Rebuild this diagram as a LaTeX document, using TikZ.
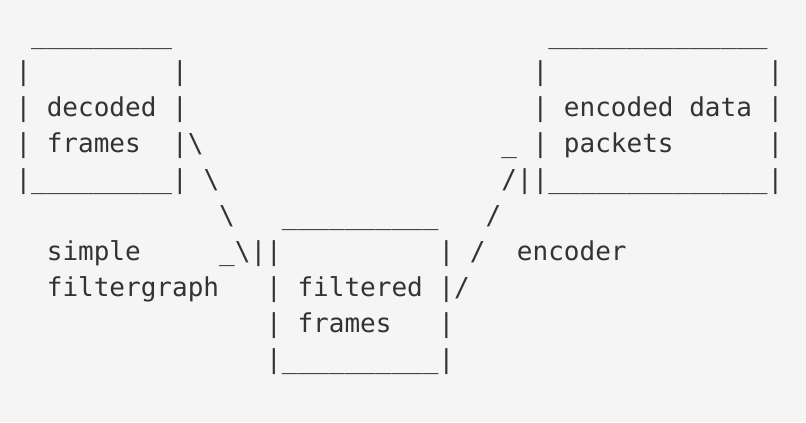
\documentclass[tikz,border=0pt]{standalone}
\usepackage{fontspec}
\usepackage{xcolor}
\usepackage{tikz}
\newfontfamily\asciifont{DejaVu Sans Mono}
\definecolor{paper}{HTML}{F5F5F5}
\definecolor{ink}{HTML}{333333}
\tikzset{asc/.style={anchor=base west,inner sep=0pt,outer sep=0pt,text=ink,
  font=\asciifont\fontsize{13.01pt}{18pt}\selectfont}}

\begin{document}
\begin{tikzpicture}
	\fill[paper] (0,0) rectangle (403pt,-211pt);
	\useasboundingbox (0,0) rectangle (403pt,-211pt);
	\begin{scope}[shift={(7.75pt,-22pt)},x=7.835pt,y=-18.05pt]
	% decoded frames box
	\node[asc] (dec top) at (1,0) {\_\_\_\_\_\_\_\_\_};
	\node[asc] (dec l1) at (0,1) {|};
	\node[asc] (dec r1) at (10,1) {|};
	\node[asc] (dec txt) at (0,2) {| decoded |};
	\node[asc] (dec txt2) at (0,3) {| frames};
	\node[asc] (dec r3) at (10,3) {|\textbackslash};
	\node[asc] (dec bot) at (0,4) {|\_\_\_\_\_\_\_\_\_|};
	% encoded data box
	\node[asc] (enc top) at (34,0) {\_\_\_\_\_\_\_\_\_\_\_\_\_\_};
	\node[asc] (enc l1) at (33,1) {|};
	\node[asc] (enc r1) at (48,1) {|};
	\node[asc] (enc txt) at (33,2) {| encoded data |};
	\node[asc] (enc tip) at (31,3) {\_};
	\node[asc] (enc txt2) at (33,3) {| packets};
	\node[asc] (enc r3) at (48,3) {|};
	\node[asc] (enc bot) at (31,4) {/||\_\_\_\_\_\_\_\_\_\_\_\_\_\_|};
	% left arrow
	\node[asc] (fg a1) at (12,4) {\textbackslash};
	\node[asc] (fg a2) at (13,5) {\textbackslash};
	\node[asc] (fg a3) at (13,6) {\_\textbackslash||};
	\node[asc] (fg lab1) at (2,6) {simple};
	\node[asc] (fg lab2) at (2,7) {filtergraph};
	% filtered frames box
	\node[asc] (fil top) at (17,5) {\_\_\_\_\_\_\_\_\_\_};
	\node[asc] (fil r1) at (27,6) {|};
	\node[asc] (fil txt) at (16,7) {| filtered |/};
	\node[asc] (fil txt2) at (16,8) {| frames};
	\node[asc] (fil r3) at (27,8) {|};
	\node[asc] (fil bot) at (16,9) {|\_\_\_\_\_\_\_\_\_\_|};
	% right arrow
	\node[asc] (en a1) at (30,5) {/};
	\node[asc] (en a2) at (29,6) {/};
	\node[asc] (en lab) at (32,6) {encoder};
	\end{scope}
\end{tikzpicture}
\end{document}
